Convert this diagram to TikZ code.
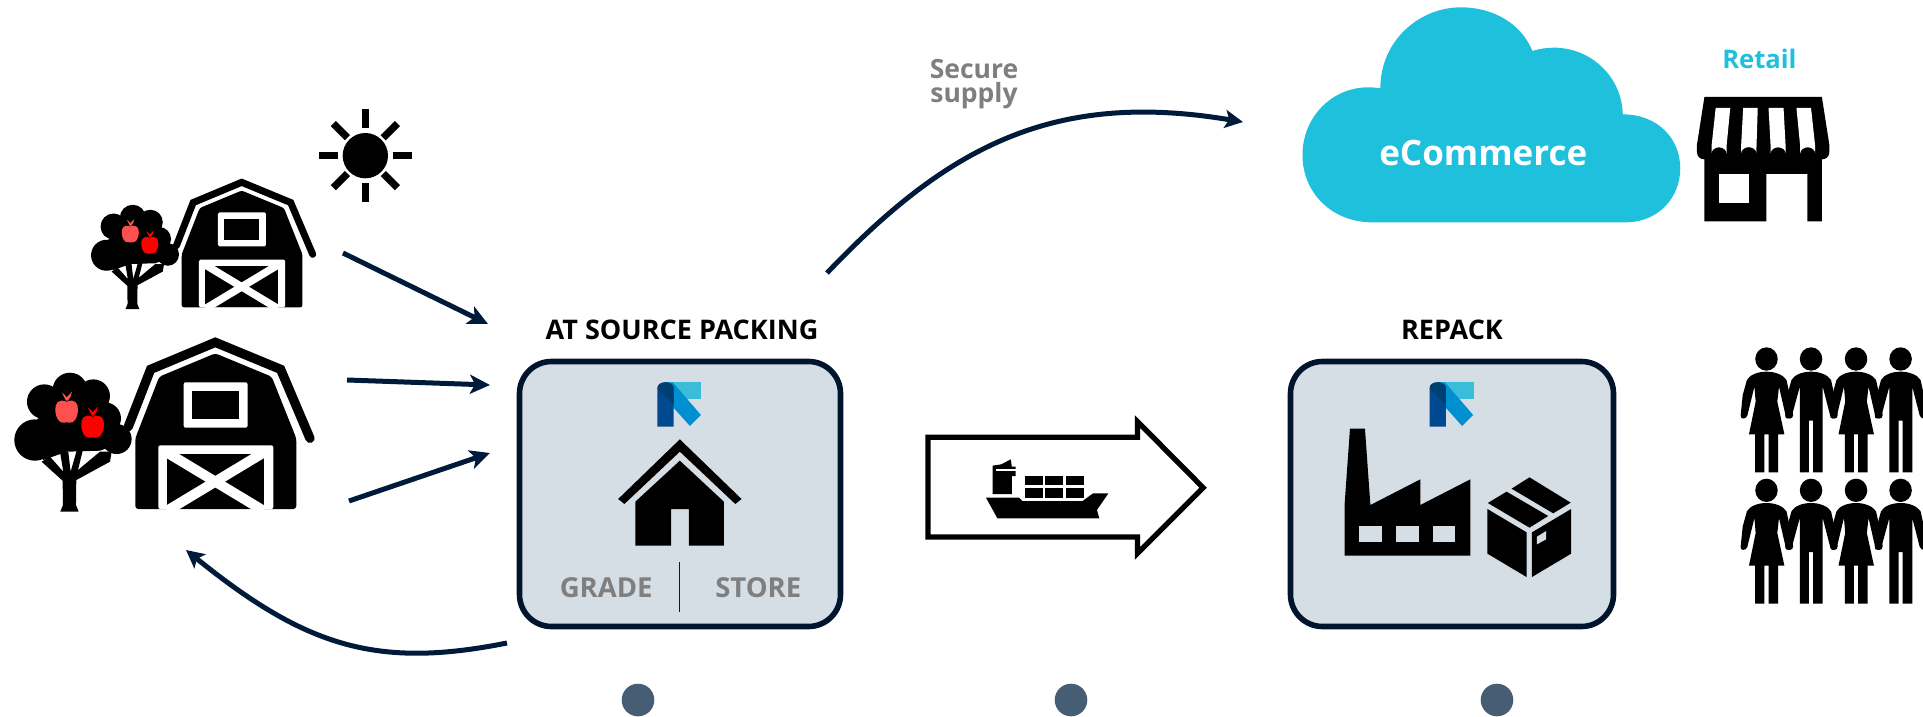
\documentclass[tikz,border=0pt]{standalone}
\usepackage{fontspec}
\setmainfont{Open Sans}
\usetikzlibrary{arrows.meta}
\definecolor{navy}{HTML}{001A3A}
\definecolor{boxfill}{HTML}{D6DEE5}
\definecolor{boxedge}{HTML}{00142E}
\definecolor{cyanc}{HTML}{1FC0DC}
\definecolor{dotc}{HTML}{475D73}
\definecolor{greyt}{HTML}{7F7F7F}
\definecolor{apple}{HTML}{FF5050}
\definecolor{logoT}{HTML}{3BBCD9}
\definecolor{logoB}{HTML}{0090D0}
\definecolor{logoD}{HTML}{004990}
\definecolor{logoO}{HTML}{003F72}
\tikzset{
  flow/.style={draw=navy,line width=5pt,-{Stealth[length=20pt,width=19pt,inset=5pt]}},
  curveflow/.style={draw=navy,line width=5pt,-{Stealth[length=18pt,width=18pt,inset=4pt]}},
  stagebox/.style={draw=boxedge,line width=5.6pt,fill=boxfill,rounded corners=32pt,minimum width=#1,minimum height=265pt,inner sep=0pt},
  lbl/.style={inner sep=0pt,font=\bfseries\fontsize{#1}{#1}\selectfont},
  z/.style n args={3}{shift={(#1,#2)},x=#3 pt,y=-0.33333pt},
}
\newcommand{\barnicon}[3]{%
\begin{scope}[shift={(#1,#2)},x=#3*0.33333pt,y=-#3*0.33333pt,shift={(-646,-1257)}]
 \draw[line width=#3*9.3pt,line cap=round,line join=miter] (385,1010)--(452,838)--(646,757)--(842,838)--(930,1045);
 \fill[rounded corners=#3*3pt] (406,1045)--(478,860)--(646,790)--(815,860)--(889,1045)--(889,1257)--(406,1257)--cycle;
 \fill[white,rounded corners=#3*2pt] (551,877) rectangle (743,1013);
 \fill (576,903) rectangle (717,987);
 \fill[white,rounded corners=#3*2pt] (475,1066) rectangle (820,1257);
 \begin{scope}
  \clip (500,1092) rectangle (792,1257);
  \fill (500,1092) rectangle (792,1257);
  \draw[white,line width=#3*10pt] (490,1081)--(802,1269);
  \draw[white,line width=#3*10pt] (802,1081)--(490,1269);
 \end{scope}
\end{scope}}
\newcommand{\appletree}[3]{%
\begin{scope}[shift={(#1,#2)},x=#3*0.33333pt,y=-#3*0.33333pt,shift={(-208,-1265)}]
 \fill (105,1050) circle (62);
 \fill (133,935) circle (52);
 \fill (210,900) circle (52);
 \fill (280,918) circle (50);
 \fill (315,985) circle (48);
 \fill (350,1047) circle (45);
 \fill (100,1000)--(200,900)--(330,950)--(360,1060)--(300,1082)--(200,1085)--(130,1110)--cycle;
 \fill (181,1265)--(236,1265)--(228,1245)--(229,1170)--(330,1115)--(335,1085)--(300,1085)--(234,1140)--(250,1075)--(232,1075)--(212,1145)--(205,1085)--(180,1085)--(190,1145)--(150,1100)--(125,1115)--(188,1172)--(189,1245)--cycle;
 \fill[apple] (200,935) .. controls (225,925) and (235,940) .. (234,960) .. controls (233,985) and (222,1000) .. (208,998) .. controls (203,996) and (197,996) .. (192,998) .. controls (178,1000) and (167,985) .. (166,960) .. controls (165,940) and (175,925) .. (200,935) -- cycle;
 \fill[apple] (198,932) -- (186,908) -- (195,915) -- (200,922) -- (216,905) -- (212,920) -- (204,932) -- cycle;
 \fill[red] (278,980) .. controls (303,970) and (313,985) .. (312,1005) .. controls (311,1030) and (300,1045) .. (286,1043) .. controls (281,1041) and (275,1041) .. (270,1043) .. controls (256,1045) and (245,1030) .. (244,1005) .. controls (243,985) and (253,970) .. (278,980) -- cycle;
 \fill[red] (276,977) -- (264,953) -- (273,960) -- (278,967) -- (294,950) -- (290,965) -- (282,977) -- cycle;
\end{scope}}
\newcommand{\logoicon}[2]{%
\begin{scope}[shift={(#1,#2)},x=0.4783pt,y=-0.33333pt]
 \fill[logoT] (16,0) rectangle (92,50);
 \fill[logoB] (16,0)--(32,0)--(91,98)--(68,131)--(16,48)--cycle;
 \fill[logoD] (0,133)--(0,18) .. controls (0,6) and (8,0) .. (17,0) .. controls (26,0) and (34,6) .. (34,18)--(34,133)--cycle;
 \fill[logoO] (0,18) .. controls (0,6) and (8,0) .. (17,0) .. controls (26,0) and (34,6) .. (34,18)--(34,65)--(5,28)--(0,18)--cycle;
\end{scope}}
\newcommand{\womanicon}[2]{%
\begin{scope}[shift={(#1,#2)}]
 \fill (0,35) ellipse (27 and 35);
 \fill (0,73) .. controls (20,73) and (40,82) .. (48,98) -- (56,143) -- (64,203) .. controls (64,217) and (50,217) .. (46,205) -- (30,118) -- (26,163) -- (43,261) -- (28,261) -- (28,375) -- (5,375) -- (5,261) -- (-5,261) -- (-5,375) -- (-27,375) -- (-27,261) -- (-42,261) -- (-26,163) -- (-29,118) -- (-46,205) .. controls (-50,217) and (-64,217) .. (-62,203) -- (-57,143) -- (-47,98) .. controls (-40,82) and (-20,73) .. (0,73) -- cycle;
\end{scope}}
\newcommand{\manicon}[2]{%
\begin{scope}[shift={(#1,#2)}]
 \fill (0,35) ellipse (27 and 35);
 \fill (0,73) .. controls (20,73) and (40,82) .. (48,98) -- (56,143) -- (64,203) .. controls (64,217) and (50,217) .. (46,205) -- (28,118) -- (28,375) -- (5,375) -- (5,220) -- (-5,220) -- (-5,375) -- (-27,375) -- (-27,118) -- (-46,205) .. controls (-50,217) and (-64,217) .. (-62,203) -- (-57,143) -- (-47,98) .. controls (-40,82) and (-20,73) .. (0,73) -- cycle;
\end{scope}}
\begin{document}
\begin{tikzpicture}[x=1pt,y=-1pt]
\useasboundingbox (0,0) rectangle (1923,717);
\clip (0,0) rectangle (1923,717);

% sun
\begin{scope}[z={0}{90}{0.33333}]
 \fill (1096,197) circle (68);
 \foreach \a in {0,90,180,270}
  \draw[line width=7.3pt] (1096,197) ++(\a:82) -- ++(\a:57);
 \foreach \a in {45,135,225,315}
  \draw[line width=7.3pt] (1096,197) ++(\a:76) -- ++(\a:60);
\end{scope}

% farms
\barnicon{241.7}{307.3}{0.75}
\appletree{132.3}{309}{0.75}
\barnicon{215.3}{509}{1}
\appletree{69.3}{511.7}{1}

% stage boxes
\node[stagebox=321pt] (source) at (680,494) {};
\node[stagebox=323pt] (repack) at (1452,494) {};
\node[lbl=27] (sourcetitle) at (682,330) {AT SOURCE PACKING};
\node[lbl=27] (repacktitle) at (1452,330) {REPACK};

% source box content
\logoicon{657.4}{382.3}
\begin{scope}[z={500}{330}{0.4783}]
 \fill (376,328)--(505,507)--(492,522)--(376,365)--(260,522)--(247,507)--cycle;
 \fill (376,392)--(468,515)--(468,647)--(395,647)--(395,537)--(358,537)--(358,647)--(283,647)--(283,515)--cycle;
 \coordinate (divtop) at (375,697);
 \coordinate (divbot) at (375,845);
 \node[lbl=27.5,text=greyt] (grade) at (222,773) {GRADE};
 \node[lbl=27.5,text=greyt] (store) at (540,773) {STORE};
\end{scope}
\draw[navy!80!blue,line width=1.6pt] (divtop)--(divbot);

% ship arrow
\begin{scope}[z={500}{330}{0.4783}]
 \draw[line width=5.3pt,miter limit=10] (895,322)--(1333,322)--(1333,275)--(1470,473)--(1333,670)--(1333,621)--(895,621)--cycle;
 \fill (1016,503)--(1085,503)--(1092,513)--(1218,513)--(1240,490)--(1272,490)--(1248,540)--(1253,565)--(1040,565)--cycle;
 \fill (1030,492)--(1030,407)--(1048,403)--(1068,388)--(1070,410)--(1078,410)--(1078,438)--(1070,438)--(1070,492)--cycle;
 \fill[white] (1037,418) rectangle (1078,424);
 \foreach \cx in {1097,1140,1184}
  \foreach \cy in {437,475}
   \fill (\cx,\cy) rectangle ++(38,28);
\end{scope}

% repack box content
\logoicon{1429.6}{382.3}
\begin{scope}[z={1270}{330}{0.4165}]
 \fill (179,677)--(179,525)--(192,296)--(228,296)--(241,525)--(361,448)--(361,525)--(481,448)--(481,677)--cycle;
 \foreach \wx in {214,303,391}
  \fill[boxfill] (\wx,587) rectangle ++(54,50);
 \fill (623,442)--(722,518)--(680,550)--(580,476)--cycle;
 \fill (568,485)--(668,558)--(623,593)--(523,519)--cycle;
 \fill (522,537)--(616,607)--(616,741)--(522,671)--cycle;
 \fill (629,607)--(723,537)--(723,671)--(629,741)--cycle;
 \fill[boxfill] (641,620)--(663,603)--(663,628)--(641,643)--cycle;
\end{scope}

% people
\begin{scope}[z={1270}{330}{0.4165}]
 \foreach \ry in {52,446} {
  \womanicon{1192}{\ry}
  \manicon{1299}{\ry}
  \womanicon{1407}{\ry}
  \manicon{1514}{\ry}
 }
\end{scope}

% cloud and store
\begin{scope}[z={1270}{0}{0.4165}]
 \fill[cyanc] (245,667) .. controls (150,667) and (78,580) .. (78,465) .. controls (78,350) and (150,262) .. (235,262) .. controls (245,262) and (255,263) .. (265,265) .. controls (265,120) and (360,22) .. (458,22) .. controls (540,22) and (605,75) .. (630,153) .. controls (648,146) and (665,143) .. (682,143) .. controls (770,143) and (845,230) .. (847,343) .. controls (930,343) and (985,415) .. (985,505) .. controls (985,595) and (930,667) .. (855,667) -- cycle;
 \node[lbl=35,text=white] (ecom) at (512,459) {eCommerce};
 \node[lbl=25.6,text=cyanc] (retail) at (1175,177) {Retail};
 \fill (1043,291)--(1325,291)--(1343,435)--(1343,455) .. controls (1343,470) and (1335,478) .. (1325,478)--(1325,664)--(1290,664)--(1290,522)--(1192,522)--(1192,664)--(1043,664)--(1043,478) .. controls (1033,478) and (1025,470) .. (1025,455)--(1025,435)--cycle;
 \fill[white] (1078,522) rectangle (1149,609);
 \fill[white] (1070,324)--(1105,324)--(1096,440)--(1096,460) arc (0:-180:18)--(1060,440)--cycle;
 \fill[white] (1136,324)--(1171,324)--(1168,440)--(1168,460) arc (0:-180:18.5)--(1131,440)--cycle;
 \fill[white] (1197,324)--(1233,324)--(1238,440)--(1238,460) arc (0:-180:18)--(1202,440)--cycle;
 \fill[white] (1264,324)--(1299,324)--(1309,440)--(1309,460) arc (0:-180:18)--(1273,440)--cycle;
\end{scope}

\node[inner sep=0pt,text=greyt,align=center,font=\bfseries\fontsize{26.5}{24}\selectfont] (secure) at (974,84) {Secure\\supply};

% connectors
\coordinate (f1a) at (343,253); \coordinate (f1b) at (488,324);
\coordinate (f2a) at (347,380); \coordinate (f2b) at (490,385);
\coordinate (f3a) at (349,501); \coordinate (f3b) at (490,453);
\coordinate (upa) at (827,273); \coordinate (upb) at (1243,122);
\coordinate (ba) at (507,643); \coordinate (bb) at (186,550);
\draw[flow] (f1a)--(f1b);
\draw[flow] (f2a)--(f2b);
\draw[flow] (f3a)--(f3b);
\draw[curveflow] (upa) .. controls (947,147) and (1053,90) .. (upb);
\draw[curveflow] (ba) .. controls (377,669) and (306,647) .. (bb);

% dots
\fill[dotc] (638,700) circle (16.3);
\fill[dotc] (1071,700) circle (16.3);
\fill[dotc] (1497,700) circle (16.3);
\end{tikzpicture}
\end{document}
